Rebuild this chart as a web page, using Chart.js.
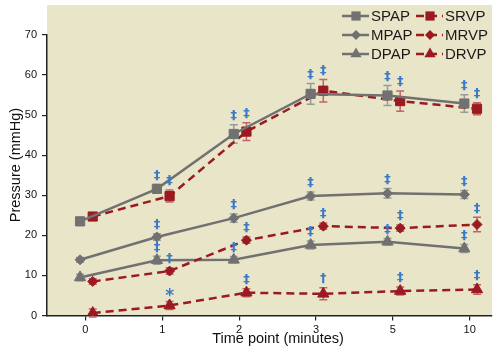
<!DOCTYPE html>
<html>
<head>
<meta charset="utf-8">
<script src="https://cdn.jsdelivr.net/npm/chart.js@4.4.0/dist/chart.umd.min.js"></script>
<style>
  html, body { margin: 0; padding: 0; background: #fff; }
  #wrap { width: 502px; height: 354px; }
</style>
</head>
<body>
<div id="wrap"><canvas id="c" width="502" height="354"></canvas></div>
<script>
// time points (minutes)
const timeLabels = ['0', '1', '2', '3', '5', '10'];

// mean pressures (mmHg)
const spap = [23.5, 31.6, 45.3, 55.3, 54.9, 52.9];
const srvp = [24.7, 29.8, 45.9, 56.1, 53.5, 51.6];
const mpap = [13.9, 19.6, 24.3, 29.8, 30.5, 30.2];
const mrvp = [8.5, 11.1, 18.8, 22.3, 21.8, 22.7];
const dpap = [9.5, 13.8, 13.9, 17.6, 18.4, 16.7];
const drvp = [0.6, 2.5, 5.7, 5.4, 6.1, 6.5];

// error (+/-)
const spapErr = [0.6, 1.1, 2.3, 2.6, 2.5, 2.2];
const srvpErr = [0.6, 1.5, 2.2, 2.8, 2.5, 1.5];
const mpapErr = [0.6, 0.8, 1.0, 1.0, 1.2, 1.0];
const mrvpErr = [0.7, 0.8, 0.8, 0.8, 0.8, 1.8];
const dpapErr = [0.8, 1.0, 0.8, 1.0, 0.8, 1.0];
const drvpErr = [1.0, 1.0, 1.0, 1.5, 1.0, 1.2];

// significance marks
const spapSig = ['', '‡', '‡', '‡', '‡', '‡'];
const srvpSig = ['', '‡', '‡', '‡', '‡', '‡'];
const mpapSig = ['', '‡', '‡', '‡', '‡', '‡'];
const mrvpSig = ['', '†', '‡', '‡', '‡', '‡'];
const dpapSig = ['', '‡', '‡', '‡', '‡', '‡'];
const drvpSig = ['', '*', '‡', '†', '‡', '‡'];

const yTicks = [0, 10, 20, 30, 40, 50, 60, 70];
const xTitle = 'Time point (minutes)';
const yTitle = 'Pressure (mmHg)';

const GRAY = '#717171';
const RED = '#9b1a22';
const FONT = "'Liberation Sans', Arial, sans-serif";

function pts(arr, shift) {
  return arr.map((v, i) => ({ x: i + shift, y: v }));
}

function serie(label, arr, err, sig, rv, style, radius) {
  return {
    label: label,
    data: pts(arr, rv ? 0.095 : -0.07),
    err: err,
    sig: sig,
    borderColor: rv ? RED : GRAY,
    backgroundColor: rv ? RED : GRAY,
    pointBorderColor: rv ? RED : GRAY,
    pointBackgroundColor: rv ? RED : GRAY,
    borderWidth: 2.5,
    borderDash: rv ? [8, 5] : [],
    pointStyle: style,
    pointRadius: radius,
    pointBorderWidth: 1,
    tension: 0
  };
}

const datasets = [
  serie('SPAP', spap, spapErr, spapSig, false, 'rect', 6.5),
  serie('SRVP', srvp, srvpErr, srvpSig, true, 'rect', 6.5),
  serie('MPAP', mpap, mpapErr, mpapSig, false, 'rectRot', 5),
  serie('MRVP', mrvp, mrvpErr, mrvpSig, true, 'rectRot', 5),
  serie('DPAP', dpap, dpapErr, dpapSig, false, 'triangle', 6.5),
  serie('DRVP', drvp, drvpErr, drvpSig, true, 'triangle', 6.5)
];

function marker(ctx, style, x, y, r, color) {
  ctx.fillStyle = color;
  ctx.beginPath();
  if (style === 'rect') {
    const s = r * Math.SQRT1_2;
    ctx.rect(x - s, y - s, 2 * s, 2 * s);
  } else if (style === 'rectRot') {
    ctx.moveTo(x, y - r); ctx.lineTo(x + r, y); ctx.lineTo(x, y + r); ctx.lineTo(x - r, y);
    ctx.closePath();
  } else {
    ctx.moveTo(x, y - r);
    ctx.lineTo(x + r * 0.866, y + r * 0.5);
    ctx.lineTo(x - r * 0.866, y + r * 0.5);
    ctx.closePath();
  }
  ctx.fill();
}

const extras = {
  id: 'extras',
  beforeDraw(chart) {
    const { ctx, chartArea: a } = chart;
    ctx.save();
    ctx.fillStyle = '#e9e5c9';
    ctx.fillRect(a.left, 5, a.right - a.left, a.bottom - 5);
    ctx.restore();
  },
  beforeDatasetsDraw(chart) {
    const { ctx } = chart;
    const ys = chart.scales.y;
    ctx.save();
    chart.data.datasets.forEach((ds, i) => {
      const meta = chart.getDatasetMeta(i);
      ctx.strokeStyle = ds.borderColor === RED ? '#c0646a' : '#9a9a9a';
      ctx.lineWidth = 1.5;
      meta.data.forEach((p, j) => {
        const v = ds.data[j].y, e = ds.err[j];
        const t = ys.getPixelForValue(v + e), b = ys.getPixelForValue(v - e);
        ctx.beginPath();
        ctx.moveTo(p.x, t); ctx.lineTo(p.x, b);
        ctx.moveTo(p.x - 4, t); ctx.lineTo(p.x + 4, t);
        ctx.moveTo(p.x - 4, b); ctx.lineTo(p.x + 4, b);
        ctx.stroke();
      });
    });
    ctx.restore();
  },
  afterDatasetsDraw(chart) {
    const { ctx } = chart;
    const ys = chart.scales.y;
    ctx.save();
    ctx.fillStyle = '#3a78c8';
    ctx.textAlign = 'center';
    ctx.textBaseline = 'middle';
    chart.data.datasets.forEach((ds, i) => {
      const meta = chart.getDatasetMeta(i);
      meta.data.forEach((p, j) => {
        const s = ds.sig[j];
        if (!s) return;
        const t = ys.getPixelForValue(ds.data[j].y + ds.err[j]);
        ctx.font = (s === '*' ? 'bold 17px ' : 'bold 13px ') + "'DejaVu Sans', sans-serif";
        ctx.fillText(s, p.x, t - (s === '*' ? 5 : 9));
      });
    });
    ctx.restore();
  },
  afterDraw(chart) {
    const { ctx } = chart;
    const cols = [342, 416];
    const rows = [16, 35, 54];
    ctx.save();
    ctx.font = '15px ' + FONT;
    ctx.textBaseline = 'middle';
    chart.data.datasets.forEach((ds, i) => {
      const x = cols[i % 2], y = rows[Math.floor(i / 2)];
      ctx.strokeStyle = ds.borderColor;
      ctx.lineWidth = 2.5;
      ctx.setLineDash(ds.borderDash);
      ctx.beginPath();
      ctx.moveTo(x, y); ctx.lineTo(x + 27, y);
      ctx.stroke();
      ctx.setLineDash([]);
      marker(ctx, ds.pointStyle, x + 14, y, ds.pointRadius, ds.borderColor);
      ctx.fillStyle = '#1a1a1a';
      ctx.fillText(ds.label, x + 29, y + 1);
    });

    // axis titles
    ctx.fillStyle = '#111';
    ctx.font = '14.5px ' + FONT;
    ctx.textAlign = 'center';
    ctx.fillText(xTitle, 278, 339);
    ctx.translate(16, 165);
    ctx.rotate(-Math.PI / 2);
    ctx.fillText(yTitle, 0, 0);
    ctx.restore();
  }
};

new Chart(document.getElementById('c'), {
  type: 'line',
  data: { datasets: datasets },
  plugins: [extras],
  options: {
    responsive: false,
    devicePixelRatio: 1,
    animation: false,
    layout: { padding: { top: 35, right: 10, left: 0, bottom: 0 } },
    plugins: { legend: { display: false }, tooltip: { enabled: false } },
    scales: {
      x: {
        type: 'linear',
        min: -0.5,
        max: 5.29,
        afterBuildTicks: (s) => { s.ticks = timeLabels.map((t, i) => ({ value: i })); },
        afterFit: (s) => { s.height = 38.5; },
        ticks: {
          color: '#111',
          font: { family: FONT, size: 11 },
          padding: 3,
          callback: (v) => timeLabels[v]
        },
        grid: { drawOnChartArea: false, drawTicks: true, tickLength: 5, color: '#222', lineWidth: 1.2 },
        border: { color: '#222', width: 1.5 }
      },
      y: {
        min: 0,
        max: 70,
        afterBuildTicks: (s) => { s.ticks = yTicks.map((v) => ({ value: v })); },
        afterFit: (s) => { s.width = 47; },
        ticks: { color: '#111', font: { family: FONT, size: 11 }, padding: 5 },
        grid: { drawOnChartArea: false, drawTicks: true, tickLength: 5, color: '#222', lineWidth: 1.2 },
        border: { color: '#222', width: 1.5 }
      }
    }
  }
});
</script>
</body>
</html>
